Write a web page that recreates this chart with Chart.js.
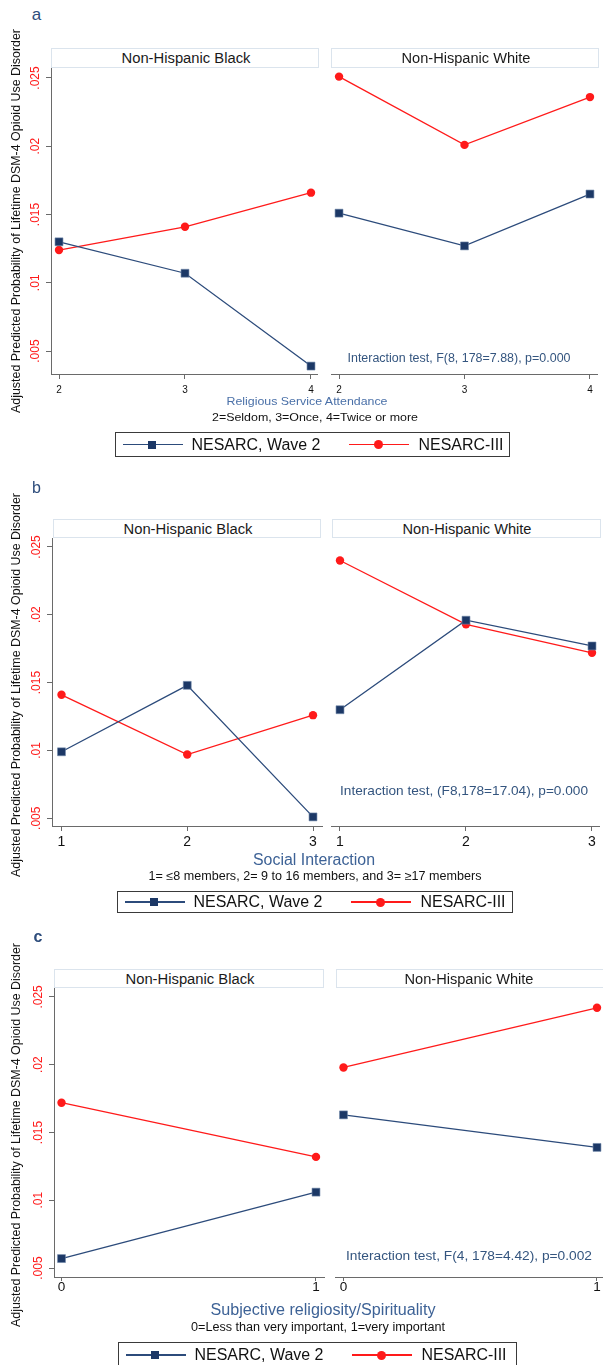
<!DOCTYPE html>
<html>
<head>
<meta charset="utf-8">
<script src="https://cdn.jsdelivr.net/npm/chart.js@4.4.0/dist/chart.umd.min.js"></script>
<style>
  html, body { margin: 0; padding: 0; background: #fff; }
  body { width: 603px; height: 1365px; position: relative; overflow: hidden;
         font-family: "Liberation Sans", Arial, sans-serif; }
  canvas { position: absolute; }
  .txt { position: absolute; white-space: nowrap; line-height: 1; }
  .strip { position: absolute; box-sizing: border-box; border: 1px solid #dbe4ed; background: #fff; z-index: 2; }
  .legend { position: absolute; box-sizing: border-box; border: 1px solid #3a3a3a; background: #fff; }
  .lg-line { position: absolute; height: 1.3px; }
  .lg-mark { position: absolute; }
</style>
</head>
<body>
<script>
// shared labels
const raceGroups = ['Non-Hispanic Black', 'Non-Hispanic White'];
const seriesNames = ['NESARC, Wave 2', 'NESARC-III'];
const yTicks = [0.005, 0.01, 0.015, 0.02, 0.025];
const yTickLabels = ['.005', '.01', '.015', '.02', '.025'];
const yTitle = 'Adjusted Predicted Probability of Lifetime DSM-4 Opioid Use Disorder';

// a - religious service attendance
const attendanceLevels = [2, 3, 4];
const attendBlackWave2 = [0.0130, 0.0107, 0.0039];
const attendBlackIII = [0.0124, 0.0141, 0.0166];
const attendWhiteWave2 = [0.0151, 0.0127, 0.0165];
const attendWhiteIII = [0.0251, 0.0201, 0.0236];
const attendanceTitle = 'Religious Service Attendance';
const attendanceNote = '2=Seldom, 3=Once, 4=Twice or more';
const attendanceTest = 'Interaction test, F(8, 178=7.88), p=0.000';

// b - social interaction
const socialLevels = [1, 2, 3];
const socialBlackWave2 = [0.0099, 0.0148, 0.0051];
const socialBlackIII = [0.0141, 0.0097, 0.0126];
const socialWhiteWave2 = [0.0130, 0.0196, 0.0177];
const socialWhiteIII = [0.0240, 0.0193, 0.0172];
const socialTitle = 'Social Interaction';
const socialNote = '1= \u22648 members, 2= 9 to 16 members, and  3= \u226517 members';
const socialTest = 'Interaction test, (F8,178=17.04), p=0.000';

// c - subjective religiosity
const religiosityLevels = [0, 1];
const relBlackWave2 = [0.0057, 0.0106];
const relBlackIII = [0.0172, 0.0132];
const relWhiteWave2 = [0.0163, 0.0139];
const relWhiteIII = [0.0198, 0.0242];
const religiosityTitle = 'Subjective religiosity/Spirituality';
const religiosityNote = '0=Less than very important, 1=very important';
const religiosityTest = 'Interaction test, F(4, 178=4.42), p=0.002';

const NAVY_LINE = '#2c4b7b';
const NAVY = '#1c3866';
const RED = '#ff1a1a';
const NOTE_BLUE = '#34557f';
const TITLE_BLUE = '#3d6296';
const AXIS = '#6a6a6a';

const panels = [
  {
    tag: 'a', levels: attendanceLevels,
    series: [[attendBlackWave2, attendBlackIII], [attendWhiteWave2, attendWhiteIII]],
    xTitle: attendanceTitle, xNote: attendanceNote, test: attendanceTest,
    geo: {
      tag: [36.5, 14, 17], plotTop: 68, plotBottom: 374, left: [51, 318], right: [331, 598],
      y: [0.00332, 0.02573], xLeft: [1.9365, 4.0556], xRight: [1.936, 4.064],
      strip: [48, 68], stripL: [51, 319], stripR: [331, 599],
      tickFont: 10, tickLen: 5, tickPad: 5,
      test: [458.5, 358, 12.5, 223], xTitle: [306.5, 401, 11.6, 161], xNote: [315, 417.5, 11.5, 206],
      legend: [115, 432, 395, 25], yTitleY: 221, titleColor: '#4a70a8'
    }
  },
  {
    tag: 'b', levels: socialLevels,
    series: [[socialBlackWave2, socialBlackIII], [socialWhiteWave2, socialWhiteIII]],
    xTitle: socialTitle, xNote: socialNote, test: socialTest,
    geo: {
      tag: [36.5, 487.5, 16], plotTop: 538, plotBottom: 826, left: [52, 323], right: [331, 600],
      y: [0.00443, 0.02566], xLeft: [0.9245, 3.0795], xRight: [0.9286, 3.0635],
      strip: [519, 538], stripL: [53, 321], stripR: [332, 601],
      tickFont: 14, tickLen: 5, tickPad: 3,
      test: [464, 791, 13.6, 248], xTitle: [314, 859.5, 16, 122], xNote: [314.5, 876, 12, 333],
      legend: [117, 891, 396, 22], yTitleY: 685, titleColor: TITLE_BLUE
    }
  },
  {
    tag: 'c', levels: religiosityLevels,
    series: [[relBlackWave2, relBlackIII], [relWhiteWave2, relWhiteIII]],
    xTitle: religiosityTitle, xNote: religiosityNote, test: religiosityTest,
    geo: {
      tag: [38, 937, 16], plotTop: 988, plotBottom: 1277, left: [54, 325], right: [335, 603],
      y: [0.00434, 0.02566], xLeft: [-0.0295, 1.0354], xRight: [-0.0335, 1.0237],
      strip: [969, 988], stripL: [54, 324], stripR: [336, 605],
      tickFont: 13.5, tickLen: 4, tickPad: -2,
      test: [469, 1256, 13.7, 246], xTitle: [322.5, 1310, 16, 225], xNote: [318, 1326.5, 12, 254],
      legend: [118, 1342, 399, 26], yTitleY: 1135, titleColor: TITLE_BLUE
    }
  }
];

function addText(str, cx, cy, size, width, color, rotate, parent) {
  const el = document.createElement('div');
  el.className = 'txt';
  el.textContent = str;
  el.style.left = cx + 'px';
  el.style.top = cy + 'px';
  el.style.fontSize = size + 'px';
  el.style.color = color;
  (parent || document.body).appendChild(el);
  const sx = width ? width / el.getBoundingClientRect().width : 1;
  el.style.transform = 'translate(-50%,-50%)' + (rotate ? ' rotate(-90deg)' : '') + ' scaleX(' + sx + ')';
  return el;
}

function addStrip(label, x0, x1, y0, y1) {
  const el = document.createElement('div');
  el.className = 'strip';
  el.style.left = x0 + 'px';
  el.style.top = y0 + 'px';
  el.style.width = (x1 - x0) + 'px';
  el.style.height = (y1 - y0) + 'px';
  document.body.appendChild(el);
  // text centred on the visible part of the strip (right strips run off the page in c)
  const visR = Math.min(x1, 600);
  const t = addText(label, (x0 + visR) / 2 - x0, (y1 - y0) / 2 - 1, 14, 129, '#1a1a1a', false, el);
}

function addLegend(box) {
  const [x, y, w, h] = box;
  const el = document.createElement('div');
  el.className = 'legend';
  el.style.left = x + 'px';
  el.style.top = y + 'px';
  el.style.width = w + 'px';
  el.style.height = h + 'px';
  document.body.appendChild(el);
  const items = [
    { mark: 37, text: 76, width: 129, color: NAVY, line: NAVY_LINE, square: true },
    { mark: 263, text: 303, width: 85, color: RED, line: RED, square: false }
  ];
  items.forEach((it, i) => {
    const ln = document.createElement('div');
    ln.className = 'lg-line';
    ln.style.left = (it.mark - 30) + 'px';
    ln.style.width = '60px';
    ln.style.top = (h / 2 - 1.7) + 'px';
    ln.style.background = it.line;
    el.appendChild(ln);
    const mk = document.createElement('div');
    mk.className = 'lg-mark';
    const s = it.square ? 8 : 9;
    mk.style.width = s + 'px';
    mk.style.height = s + 'px';
    mk.style.left = (it.mark - s / 2 - 1) + 'px';
    mk.style.top = (h / 2 - s / 2 - 1) + 'px';
    mk.style.background = it.color;
    if (!it.square) mk.style.borderRadius = '50%';
    el.appendChild(mk);
    const t = addText(seriesNames[i], 0, h / 2 - 1, 16, it.width, '#111', false, el);
    t.style.left = (it.text + it.width / 2 - 1) + 'px';
  });
}

function drawPlot(p, side) {
  const g = p.geo;
  const isLeft = side === 0;
  const [plotL, plotR] = isLeft ? g.left : g.right;
  const canvasL = isLeft ? 20 : plotL;
  const padTop = 10;
  const top = g.plotTop - padTop;
  const xAxisH = 34;
  const w = plotR - canvasL;
  const h = g.plotBottom - top + xAxisH;

  const cv = document.createElement('canvas');
  cv.width = w;
  cv.height = h;
  cv.style.left = canvasL + 'px';
  cv.style.top = top + 'px';
  cv.style.width = w + 'px';
  cv.style.height = h + 'px';
  document.body.appendChild(cv);

  const [wave2, nesarc3] = p.series[side];
  const xRange = isLeft ? g.xLeft : g.xRight;

  new Chart(cv, {
    type: 'line',
    data: {
      datasets: [
        {
          label: seriesNames[0],
          data: p.levels.map((x, i) => ({ x: x, y: wave2[i] })),
          borderColor: NAVY_LINE, borderWidth: 1.3,
          pointStyle: 'rect', pointRadius: 5.6, pointBorderWidth: 0.6,
          pointBackgroundColor: NAVY, pointBorderColor: '#6f86a8',
          tension: 0, clip: false
        },
        {
          label: seriesNames[1],
          data: p.levels.map((x, i) => ({ x: x, y: nesarc3[i] })),
          borderColor: RED, borderWidth: 1.3,
          pointStyle: 'circle', pointRadius: 4.2, pointBorderWidth: 0,
          pointBackgroundColor: RED,
          tension: 0, clip: false
        }
      ]
    },
    options: {
      animation: false,
      responsive: false,
      devicePixelRatio: 1,
      layout: { autoPadding: false, padding: { top: padTop, left: 0, right: 0, bottom: 0 } },
      plugins: { legend: { display: false }, tooltip: { enabled: false } },
      scales: {
        x: {
          type: 'linear', min: xRange[0], max: xRange[1],
          afterBuildTicks: s => { s.ticks = p.levels.map(v => ({ value: v })); },
          afterFit: s => { s.height = xAxisH; s.paddingLeft = 0; s.paddingRight = 0; },
          grid: { drawOnChartArea: false, drawTicks: true, tickLength: g.tickLen, color: AXIS, lineWidth: 1 },
          border: { display: true, color: AXIS, width: 1 },
          ticks: {
            autoSkip: false, maxRotation: 0, padding: g.tickPad, color: '#111',
            font: { family: '"Liberation Sans", Arial, sans-serif', size: g.tickFont },
            callback: v => String(v)
          }
        },
        y: {
          display: isLeft,
          min: g.y[0], max: g.y[1],
          afterBuildTicks: s => { s.ticks = yTicks.map(v => ({ value: v })); },
          afterFit: s => { s.width = plotL - canvasL; s.paddingTop = 0; s.paddingBottom = 0; },
          grid: { drawOnChartArea: false, drawTicks: true, tickLength: 5, color: AXIS, lineWidth: 1 },
          border: { display: true, color: AXIS, width: 1 },
          ticks: {
            minRotation: 90, maxRotation: 90, crossAlign: 'center', padding: -1, color: RED,
            font: { family: '"Liberation Sans", Arial, sans-serif', size: 12 },
            callback: (v, i) => yTickLabels[i]
          }
        }
      }
    }
  });
}

panels.forEach(p => {
  const g = p.geo;
  drawPlot(p, 0);
  drawPlot(p, 1);
  addStrip(raceGroups[0], g.stripL[0], g.stripL[1], g.strip[0], g.strip[1]);
  addStrip(raceGroups[1], g.stripR[0], g.stripR[1], g.strip[0], g.strip[1]);
  const tag = addText(p.tag, g.tag[0], g.tag[1], g.tag[2], 0, '#2e4d7c');
  if (p.tag === 'c') tag.style.fontWeight = 'bold';
  addText(yTitle, 16, g.yTitleY, 12, 384, '#111', true);
  addText(p.test, g.test[0], g.test[1], g.test[2], g.test[3], NOTE_BLUE);
  addText(p.xTitle, g.xTitle[0], g.xTitle[1], g.xTitle[2], g.xTitle[3], g.titleColor);
  addText(p.xNote, g.xNote[0], g.xNote[1], g.xNote[2], g.xNote[3], '#111');
  addLegend(g.legend);
});
</script>
</body>
</html>
